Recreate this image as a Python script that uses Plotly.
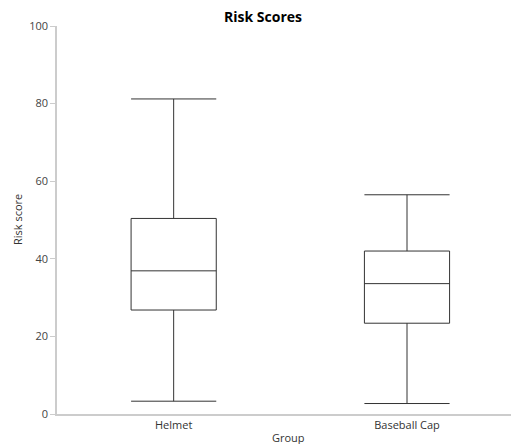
import plotly.graph_objects as go

groups = ["Helmet", "Baseball Cap"]
lower_whisker = [3.3, 2.7]
q1 = [26.8, 23.4]
median = [36.9, 33.6]
q3 = [50.4, 42.0]
upper_whisker = [81.2, 56.5]
y_ticks = [0, 20, 40, 60, 80, 100]

W, H = 511, 436
ML, MR, MT, MB = 49, 0, 18, 30
PW, PH = W - ML - MR, H - MT - MB

fig = go.Figure()
fig.add_trace(go.Box(
    x=groups,
    q1=q1, median=median, q3=q3,
    lowerfence=lower_whisker, upperfence=upper_whisker,
    width=0.365, whiskerwidth=1,
    fillcolor="white",
    line=dict(color="#333333", width=1),
    boxpoints=False,
    hoverinfo="y",
))

font_family = "Open Sans, Noto Sans, sans-serif"
fig.update_layout(
    width=W, height=H,
    margin=dict(l=ML, r=MR, t=MT, b=MB),
    paper_bgcolor="white", plot_bgcolor="white",
    showlegend=False,
    font=dict(family=font_family, size=11, color="#444444"),
    title=dict(text="<b>Risk Scores</b>", x=255 / W, xanchor="center",
               y=1 - 9 / H, yanchor="middle",
               font=dict(size=14, color="#000000", family=font_family)),
    xaxis=dict(
        range=[-0.5, 1.48], showgrid=False, zeroline=False,
        showline=True, linecolor="#cccccc", linewidth=1.5,
        ticks="", tickfont=dict(size=11, color="#333333"),
        automargin=False,
    ),
    yaxis=dict(
        range=[0, 100], tickvals=y_ticks, showgrid=False, zeroline=False,
        showline=True, linecolor="#cccccc", linewidth=1.5,
        ticks="outside", ticklen=5, tickcolor="#cccccc", tickwidth=1,
        tickfont=dict(size=11, color="#444444"),
        automargin=False,
    ),
    annotations=[
        dict(text="Group", xref="paper", yref="paper", x=0.5, y=-23 / PH,
             xanchor="center", yanchor="middle", showarrow=False,
             font=dict(size=11, color="#333333")),
        dict(text="Risk score", xref="paper", yref="paper", x=-40 / PW, y=0.5,
             xanchor="center", yanchor="middle", textangle=-90, showarrow=False,
             font=dict(size=11, color="#333333")),
    ],
)

fig.write_html("out.html")
